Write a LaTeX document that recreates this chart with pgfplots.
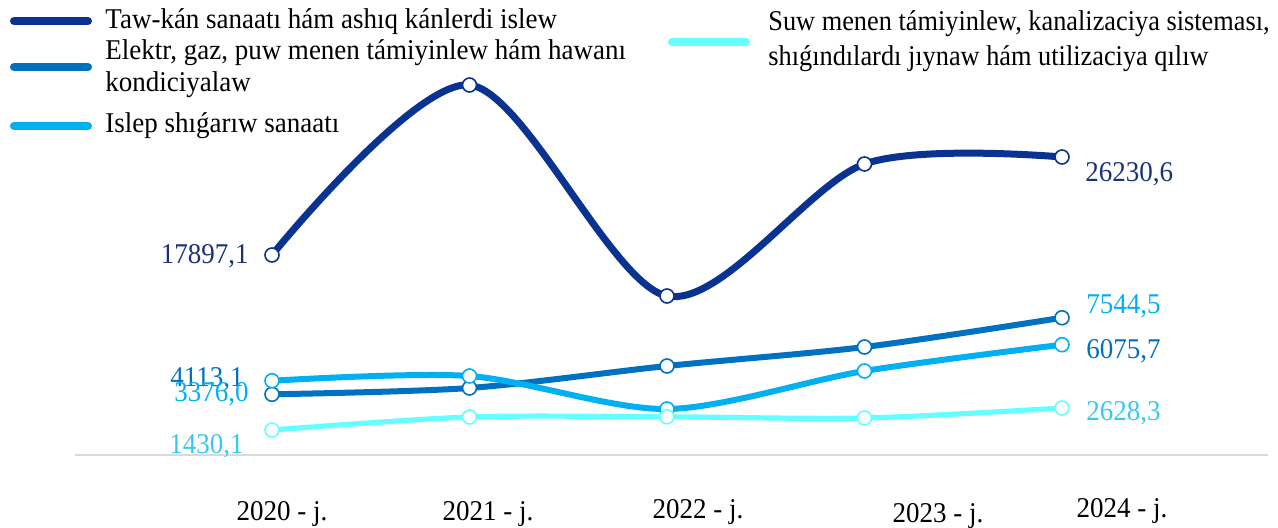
\documentclass[border=0pt]{standalone}
\usepackage{pgfplots}
\pgfplotsset{compat=1.18}
\usepackage{fontspec}
\setmainfont{Liberation Serif}

\definecolor{navy}{RGB}{10,50,145}
\definecolor{navytext}{RGB}{25,50,120}
\definecolor{elektr}{RGB}{0,112,192}
\definecolor{islep}{RGB}{0,176,240}
\definecolor{suw}{RGB}{102,255,255}
\definecolor{suwtext}{RGB}{55,200,240}
\definecolor{axisgray}{RGB}{217,217,217}

\pgfplotsset{
  base/.style={width=639bp,height=264bp,scale only axis,hide axis,clip=false,
    xmin=-1.3772,xmax=5.0937},
  ser/.style={color=#1,smooth,mark=*,mark size=3.5bp,
    mark options={fill=white,draw=#1,line width=0.8bp,solid}},
}
% text in the reference is set slightly tall
\newcommand\T[1]{\scalebox{1}[1.06]{#1}}

\begin{document}
\begin{tikzpicture}
\fontsize{13.5bp}{16bp}\selectfont
% primary axis: the three smaller series
\begin{axis}[base,ymin=-3904,ymax=24846]
  % Elektr, gaz, puw ...
  \addplot[ser=elektr,line width=3bp] coordinates {(0,3376.0) (1,3719) (2,4917) (3,5951) (4,7544.5)};
  % Islep shıǵarıw sanaatı
  \addplot[ser=islep,line width=3bp] coordinates {(0,4113.1) (1,4372) (2,2575) (3,4645) (4,6075.7)};
  % Suw menen támiyinlew ...
  \addplot[ser=suw,line width=2.6bp] coordinates {(0,1430.1) (1,2140) (2,2150) (3,2085) (4,2628.3)};
\end{axis}
% secondary axis: Taw-kán sanaatı
\begin{axis}[base,ymin=-5319,ymax=39582]
  \addplot[ser=navy,line width=3.5bp] coordinates {(0,17897.1) (1,32354) (2,14410) (3,25636) (4,26230.6)};
\end{axis}

% annotations in pixel units of the reference (origin top left)
\begin{scope}[shift={(0,264bp)},x=0.5bp,y=-0.5bp]
  \draw[axisgray,line width=0.75bp] (75,455) -- (1268,455);

  % legend
  \draw[navy,line width=4bp,line cap=round] (14,21) -- (88,21);
  \draw[elektr,line width=4bp,line cap=round] (14,67) -- (88,67);
  \draw[islep,line width=4bp,line cap=round] (14,126) -- (88,126);
  \draw[suw,line width=4bp,line cap=round] (672,42) -- (746,42);
  \node[anchor=base west,inner sep=0] at (105,29) {\T{Taw-kán sanaatı hám ashıq kánlerdi islew}};
  \node[anchor=base west,inner sep=0] at (105,60) {\T{Elektr, gaz, puw menen támiyinlew hám hawanı}};
  \node[anchor=base west,inner sep=0] at (105,92) {\T{kondiciyalaw}};
  \node[anchor=base west,inner sep=0] at (105,133) {\T{Islep shıǵarıw sanaatı}};
  \node[anchor=base west,inner sep=0] at (768,31) {\scalebox{0.975}[1.06]{Suw menen támiyinlew, kanalizaciya sisteması,}};
  \node[anchor=base west,inner sep=0] at (768,66) {\scalebox{0.975}[1.06]{shıǵındılardı jıynaw hám utilizaciya qılıw}};

  % data labels
  \node[anchor=base east,inner sep=0,text=navytext] at (249,264) {\T{17897,1}};
  \node[anchor=base west,inner sep=0,text=navytext] at (1085,182) {\T{26230,6}};
  \node[anchor=base east,inner sep=0,text=elektr] at (244,387) {\T{4113,1}};
  \node[anchor=base east,inner sep=0,text=islep] at (249,402) {\T{3376,0}};
  \node[anchor=base east,inner sep=0,text=suwtext] at (244,454) {\T{1430,1}};
  \node[anchor=base west,inner sep=0,text=islep] at (1086,314) {\T{7544,5}};
  \node[anchor=base west,inner sep=0,text=elektr] at (1086,359) {\T{6075,7}};
  \node[anchor=base west,inner sep=0,text=suwtext] at (1086,421) {\T{2628,3}};

  % category labels
  \node[anchor=base,inner sep=0] at (282,521) {\T{2020 - j.}};
  \node[anchor=base,inner sep=0] at (488,521) {\T{2021 - j.}};
  \node[anchor=base,inner sep=0] at (698,519) {\T{2022 - j.}};
  \node[anchor=base,inner sep=0] at (938,523) {\T{2023 - j.}};
  \node[anchor=base,inner sep=0] at (1122,518) {\T{2024 - j.}};
\end{scope}
\pgfresetboundingbox
\path (0,0) rectangle (639bp,264bp);
\end{tikzpicture}
\end{document}
